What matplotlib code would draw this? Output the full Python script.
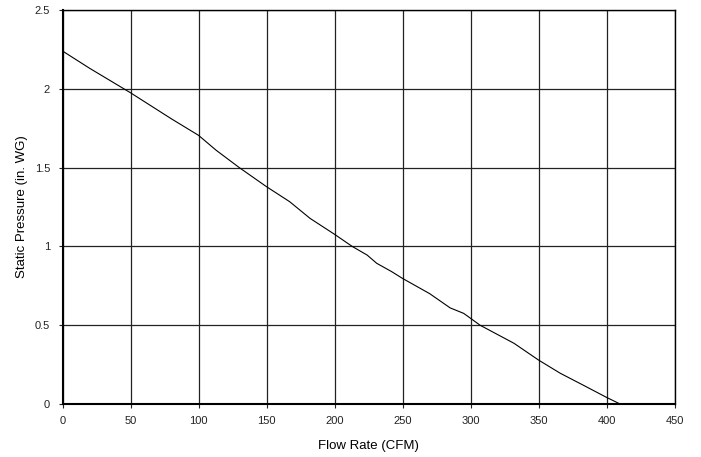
import matplotlib.pyplot as plt

plt.rcParams['font.family'] = ['Liberation Sans', 'DejaVu Sans']

flow = [0, 20, 50, 80, 100, 113, 130, 150, 167, 182, 200, 213, 224, 231, 242,
        250, 270, 285, 295, 300, 307, 332, 350, 366, 385, 400, 410]
pressure = [2.24, 2.13, 1.975, 1.81, 1.705, 1.61, 1.5, 1.379, 1.284, 1.178, 1.077,
            1.0, 0.945, 0.893, 0.84, 0.797, 0.70, 0.61, 0.575, 0.544, 0.5, 0.385,
            0.279, 0.195, 0.11, 0.042, 0.0]

xticks = [0, 50, 100, 150, 200, 250, 300, 350, 400, 450]
yticks = [0, 0.5, 1, 1.5, 2, 2.5]
ytick_labels = ["0", "0.5", "1", "1.5", "2", "2.5"]

fig = plt.figure(figsize=(7.01, 4.57), dpi=100)
ax = fig.add_axes([0.0892, 0.116, 0.8730, 0.862])

ax.plot(flow, pressure, color='black', linewidth=0.8, zorder=3)

ax.set_xlim(0, 450)
ax.set_ylim(0, 2.5)
ax.set_xticks(xticks)
ax.set_xticklabels([str(t) for t in xticks])
ax.set_yticks(yticks)
ax.set_yticklabels(ytick_labels)

ax.grid(True, color='#222222', linewidth=0.9)
ax.tick_params(direction='out', length=3, width=0.8, labelsize=8, colors='#222222')
ax.tick_params(axis='x', pad=6)
ax.tick_params(axis='y', pad=6)
for s in ax.spines.values():
    s.set_color('black')
    s.set_linewidth(1.0)
ax.spines['left'].set_linewidth(1.5)
ax.spines['bottom'].set_linewidth(1.5)

ax.set_xlabel("Flow Rate (CFM)", fontsize=9.5, labelpad=10)
ax.set_ylabel("Static Pressure (in. WG)", fontsize=9.5, labelpad=5)

plt.savefig("out.png", dpi=100)
